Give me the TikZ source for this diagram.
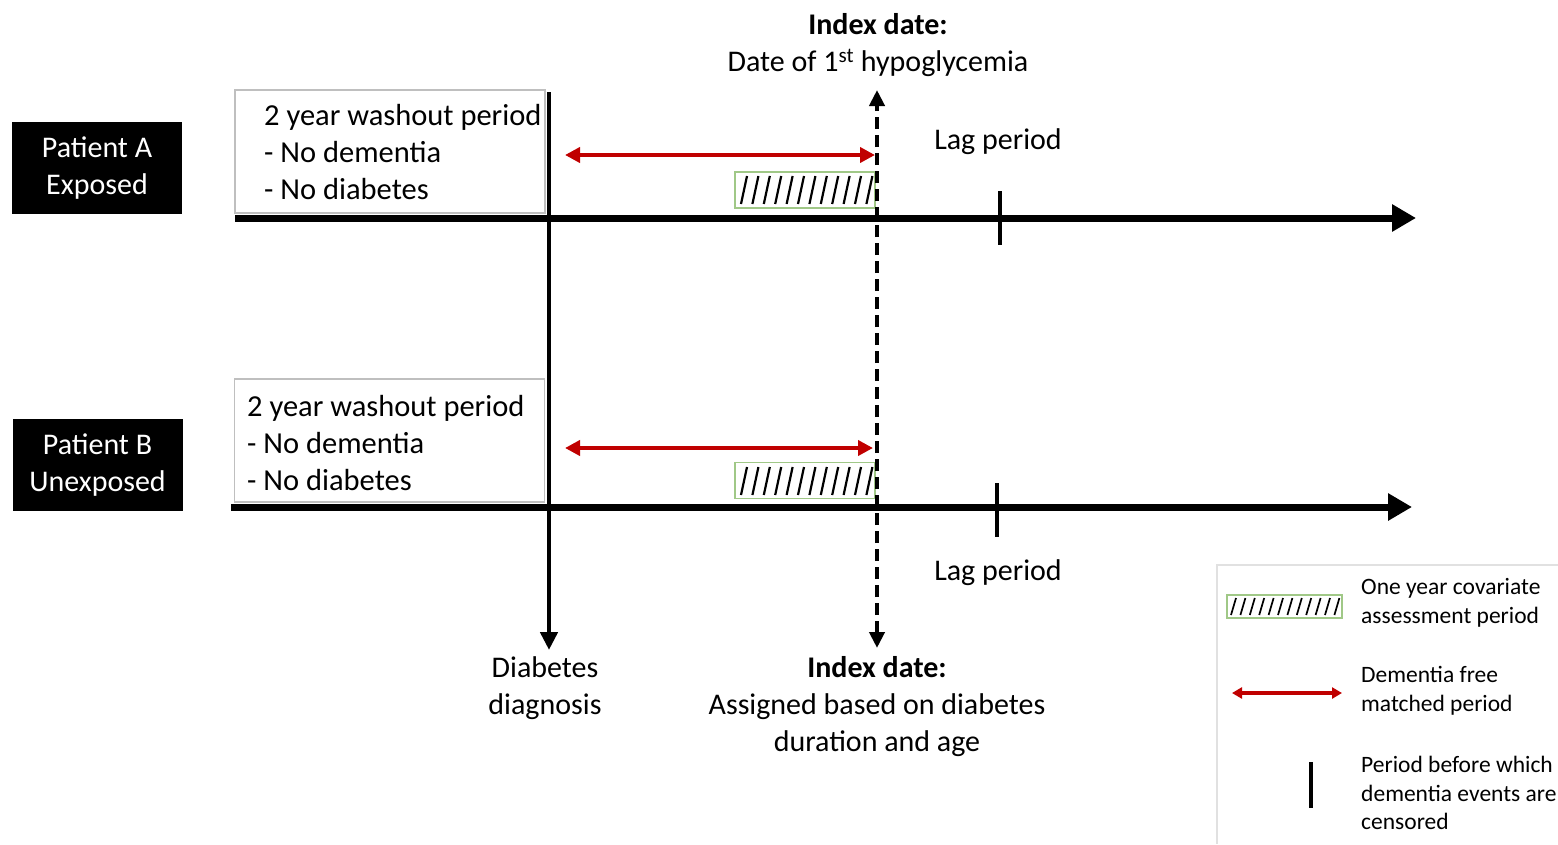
\documentclass[tikz,border=0pt]{standalone}
\usepackage{fontspec}
\setmainfont{Carlito}
\usetikzlibrary{arrows.meta,positioning}
\definecolor{darkred}{RGB}{192,0,0}
\definecolor{boxgray}{RGB}{191,191,191}
\definecolor{leggray}{RGB}{225,225,225}
\definecolor{hatchgreen}{RGB}{160,200,135}

\begin{document}
\begin{tikzpicture}[x=1pt,y=-1pt,
	patient/.style={fill=black,text=white,align=center,minimum width=170pt,minimum height=92pt,inner sep=0pt,font=\fontsize{30}{37}\selectfont},
	washbox/.style={draw=boxgray,line width=1.3pt,fill=white,minimum width=310pt,minimum height=123pt,inner sep=0pt},
	hatchbox/.style={draw=hatchgreen,line width=1.2pt,minimum width=140pt,minimum height=36pt,inner sep=0pt},
	txt/.style={align=center,inner sep=0pt,font=\fontsize{30}{37}\selectfont},
	washtxt/.style={anchor=west,align=left,inner sep=0pt,font=\fontsize{30.5}{37}\selectfont},
	legtxt/.style={anchor=west,align=left,inner sep=0pt,font=\fontsize{23.5}{28.5}\selectfont},
	timeline/.style={line width=7pt,-{Triangle[length=24pt,width=26pt]}},
	matched/.style={darkred,line width=4.5pt,{Triangle[length=15pt,width=15pt]}-{Triangle[length=15pt,width=15pt]}},
	lagtick/.style={line width=4.5pt}]
	\useasboundingbox (0,0) rectangle (1558,844);

	% patients
	\node[patient] (patA) at (97,168) {Patient A\\Exposed};
	\node[patient] (patB) at (97.5,465) {Patient B\\Unexposed};

	% washout periods
	\node[washbox] (washA) at (390,151.5) {};
	\node[washtxt] (washAtxt) at (264,152) {2 year washout period\\- No dementia\\- No diabetes};
	\node[washbox] (washB) at (389.5,440.5) {};
	\node[washtxt] (washBtxt) at (247,443) {2 year washout period\\- No dementia\\- No diabetes};

	% covariate assessment periods
	\node[hatchbox] (covA) at (805,190) {};
	\foreach \i in {0,...,11}
		\draw[line width=2.2pt] ({741+\i*11.4},204) -- ({747+\i*11.4},176);
	\node[hatchbox] (covB) at (805,480.5) {};
	\foreach \i in {0,...,11}
		\draw[line width=2.2pt] ({741+\i*11.4},495) -- ({747+\i*11.4},467);

	% timelines
	\coordinate (tlA0) at (235,218);
	\coordinate (tlA1) at (1416,218);
	\coordinate (tlB0) at (231,507);
	\coordinate (tlB1) at (1412,507);
	\draw[timeline] (tlA0) -- (tlA1);
	\draw[timeline] (tlB0) -- (tlB1);

	% lag period ticks
	\coordinate (lagA0) at (1000,191);
	\coordinate (lagA1) at (1000,245);
	\coordinate (lagB0) at (997,483);
	\coordinate (lagB1) at (997,537);
	\draw[lagtick] (lagA0) -- (lagA1);
	\draw[lagtick] (lagB0) -- (lagB1);
	\node[txt] (lagAtxt) at (998,142) {Lag period};
	\node[txt] (lagBtxt) at (998,573) {Lag period};

	% diabetes diagnosis
	\coordinate (diabTop) at (549,92);
	\coordinate (diabBot) at (549,650);
	\draw[line width=4.5pt,-{Triangle[length=18pt,width=17pt]}] (diabTop) -- (diabBot);
	\node[txt] (diabTxt) at (545,688) {Diabetes\\diagnosis};

	% index date
	\coordinate (idxTop) at (877,90);
	\coordinate (idxBot) at (877,648);
	\draw[line width=4.5pt,dash pattern=on 12pt off 6pt,{Triangle[length=16pt,width=15pt]}-{Triangle[length=16pt,width=15pt]}] (idxBot) -- (idxTop);
	\node[txt] (idxTopTxt) at (878,45) {\textbf{Index date:}\\Date of 1\textsuperscript{st} hypoglycemia};
	\node[txt] (idxBotTxt) at (877,707) {\textbf{Index date:}\\Assigned based on diabetes\\duration and age};

	% dementia free matched periods
	\coordinate (mA0) at (565,155);
	\coordinate (mA1) at (875,155);
	\coordinate (mB0) at (565,448);
	\coordinate (mB1) at (873,448);
	\draw[matched] (mA0) -- (mA1);
	\draw[matched] (mB0) -- (mB1);

	% legend
	\draw[leggray,line width=1.5pt] (1217,844) |- (1558,565);
	\node[hatchbox,minimum width=115pt,minimum height=23pt] (legCov) at (1284.5,606.5) {};
	\foreach \i in {0,...,11}
		\draw[line width=1.7pt] ({1231+\i*9.4},615) -- ({1236+\i*9.4},598);
	\node[legtxt] (legCovTxt) at (1361,603) {One year covariate\\assessment period};
	\coordinate (legM0) at (1232,693);
	\coordinate (legM1) at (1342,693);
	\draw[darkred,line width=3.5pt,{Triangle[length=10pt,width=11pt]}-{Triangle[length=10pt,width=11pt]}] (legM0) -- (legM1);
	\node[legtxt] (legMTxt) at (1361,691) {Dementia free\\matched period};
	\coordinate (legL0) at (1311,762);
	\coordinate (legL1) at (1311,808);
	\draw[lagtick] (legL0) -- (legL1);
	\node[legtxt] (legLTxt) at (1361,793) {Period before which\\dementia events are\\censored};
\end{tikzpicture}
\end{document}
